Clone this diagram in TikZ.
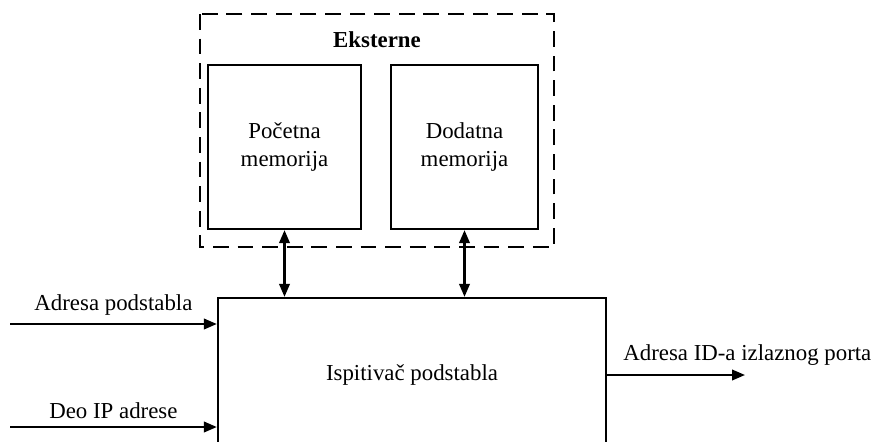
\documentclass[tikz,border=0pt]{standalone}
\usepackage{fontspec}
\setmainfont{Liberation Serif}
\usepackage{tikz}
\usetikzlibrary{positioning,arrows.meta,calc}

\tikzset{
  blok/.style={draw, line width=1.3pt, align=center, inner sep=0pt},
  vrh/.tip={Triangle[length=2.6mm,width=2.1mm]},
  veza/.style={line width=1.3pt, -vrh},
}

\begin{document}
\begin{tikzpicture}[font=\fontsize{13}{15.5}\selectfont]
    \useasboundingbox (0,0) rectangle (17.5,8.82);
    % spoljasnje memorije
    \draw[line width=1.3pt, dash pattern=on 9pt off 5pt] (4.0,8.54) rectangle (11.08,3.88);
    \node[font=\fontsize{13}{15.5}\selectfont\bfseries] (eks) at (7.54,8.02) {Eksterne};
    \node[blok, minimum width=3.06cm, minimum height=3.28cm] (pm) at (5.69,5.88) {Početna\\memorija};
    \node[blok, minimum width=2.94cm, minimum height=3.28cm] (dm) at (9.29,5.88) {Dodatna\\memorija};
    % ispitivac
    \node[blok, minimum width=7.76cm, minimum height=3.08cm] (isp) at (8.24,1.32) {Ispitivač podstabla};
    \draw[veza, vrh-vrh] (pm.south) -- (pm.south |- isp.north);
    \draw[veza, vrh-vrh] (dm.south) -- (dm.south |- isp.north);
    % ulazi i izlaz
    \coordinate (ul1) at (0.2,2.34);
    \coordinate (ul2) at (0.2,0.28);
    \coordinate (izl) at (14.9,1.32);
    \draw[veza] (ul1) -- (ul1 -| isp.west) node[midway, above=1pt] {Adresa podstabla};
    \draw[veza] (ul2) -- (ul2 -| isp.west) node[midway, above=1pt] {Deo IP adrese};
    \draw[veza] (izl -| isp.east) -- (izl);
    \node[right=0.2cm of isp.east, yshift=0.4cm] (izlt) {Adresa ID-a izlaznog porta};
\end{tikzpicture}
\end{document}
